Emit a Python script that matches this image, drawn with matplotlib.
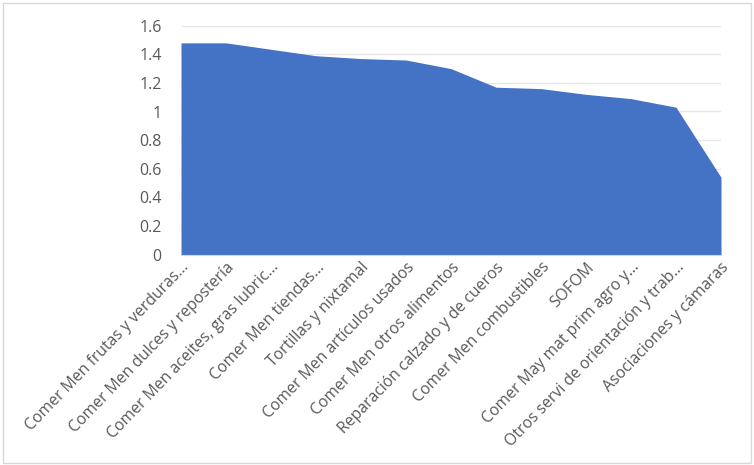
import matplotlib
matplotlib.use('Agg')
import matplotlib.pyplot as plt
import matplotlib.transforms as mtransforms
from matplotlib.patches import Rectangle

# data
categories = [
    'Comer Men frutas y verduras...',
    'Comer Men dulces y repostería',
    'Comer Men aceites, gras lubric...',
    'Comer Men tiendas...',
    'Tortillas y nixtamal',
    'Comer Men artículos usados',
    'Comer Men otros alimentos',
    'Reparación calzado y de cueros',
    'Comer Men combustibles',
    'SOFOM',
    'Comer May mat prim agro y...',
    'Otros servi de orientación y trab...',
    'Asociaciones y cámaras',
]
values = [1.48, 1.48, 1.435, 1.39, 1.37, 1.36, 1.30, 1.17, 1.16, 1.12, 1.09, 1.03, 0.54]
yticks = [0, 0.2, 0.4, 0.6, 0.8, 1, 1.2, 1.4, 1.6]
ytick_labels = ['0', '0.2', '0.4', '0.6', '0.8', '1', '1.2', '1.4', '1.6']

plt.rcParams['font.family'] = ['Open Sans', 'DejaVu Sans']
text_color = '#595959'

fig = plt.figure(figsize=(7.54, 4.65), dpi=100)
ax = fig.add_axes([181 / 754, 1 - 254.5 / 465, 540 / 754, 228.8 / 465])

x = list(range(len(categories)))
ax.fill_between(x, values, 0, color='#4472C4', linewidth=0, zorder=2)

ax.set_xlim(0, len(categories) - 1)
ax.set_ylim(0, 1.6)
ax.set_yticks(yticks)
ax.set_yticklabels(ytick_labels, color=text_color, fontsize=11.5)
ax.yaxis.grid(True, color='#e6e6e6', linewidth=1, zorder=0)
ax.set_axisbelow(True)

ax.set_xticks(x)
ax.set_xticklabels(categories, rotation=46, ha='right', va='top',
                   rotation_mode='anchor', color=text_color, fontsize=11.3)
offset = mtransforms.ScaledTranslation(11 / 100, -3 / 100, fig.dpi_scale_trans)
for lbl in ax.get_xticklabels():
    lbl.set_transform(lbl.get_transform() + offset)

ax.tick_params(axis='both', length=0)
ax.tick_params(axis='y', pad=14)
for s in ['top', 'right', 'left']:
    ax.spines[s].set_visible(False)
ax.spines['bottom'].set_color('#d9d9d9')

# light frame round the chart
fig.patches.append(Rectangle((0.004, 0.004), 0.992, 0.99, transform=fig.transFigure,
                             fill=False, edgecolor='#d9d9d9', linewidth=1))

fig.savefig('out.png', dpi=100)
